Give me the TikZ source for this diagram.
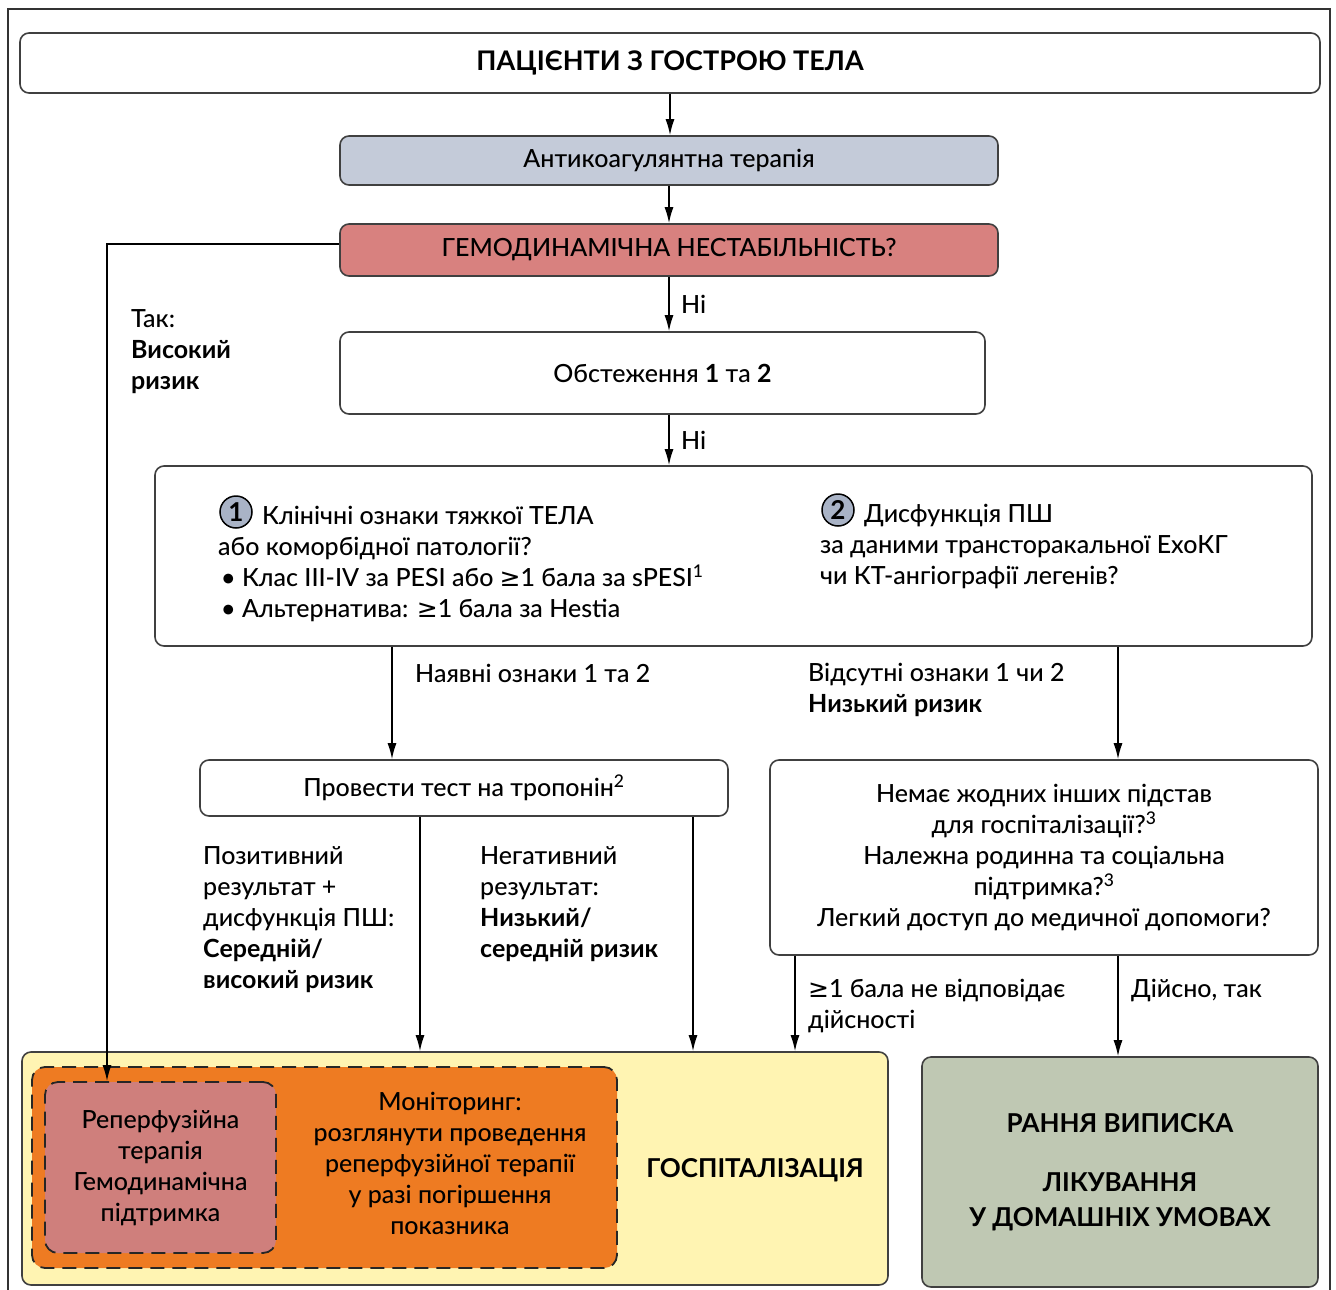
\documentclass[tikz,border=0pt]{standalone}
\usepackage{fontspec}
\setmainfont{Lato}[UprightFont={* Medium},BoldFont={* Bold}]
\newfontfamily\symfont{DejaVu Sans}
\usepackage{tikz}
\usetikzlibrary{positioning,arrows.meta}
\definecolor{sirosynij}{HTML}{C4CBD9}
\definecolor{gemodyn}{HTML}{D8817F}
\definecolor{zhovtyj}{HTML}{FFF4B2}
\definecolor{pomaranch}{HTML}{EE7B22}
\definecolor{rozhevyj}{HTML}{CF7F7C}
\definecolor{olyvkovyj}{HTML}{BFC8B3}
\definecolor{kolokruh}{HTML}{A9B3C6}

\begin{document}
\begin{tikzpicture}[x=1pt,y=-1pt,font=\fontsize{25}{31}\selectfont]
        \tikzset{
          blok/.style={
            draw=black!75,line width=1.6pt,align=center,
            rounded corners=9pt,inner sep=0pt,
          },
          blok bilyj/.style={blok,fill=white},
          blok punktyr/.style={blok,draw=black!85,line width=1.8pt,dash pattern=on 14pt off 8pt,rounded corners=13pt},
          kruzhok/.style={
            circle,draw=black,line width=1.5pt,fill=kolokruh,
            minimum size=32pt,inner sep=0pt,font=\fontsize{26}{26}\selectfont\bfseries,
          },
          pidpys/.style={align=left,inner sep=0pt},
          strilka/.style={
            -{Latex[length=16pt,width=9pt]},line width=1.5pt,draw=black,
          },
          }
        \useasboundingbox (0,0) rectangle (1336,1290);
        \draw[line width=1.8pt,draw=black!80] (8,1290) -- (8,9) -- (1330,9) -- (1330,1290);

        \node[blok bilyj, minimum width=1300pt, minimum height=60pt, font=\fontsize{27}{31}\selectfont\bfseries] (a) at (670,63) {ПАЦІЄНТИ З ГОСТРОЮ ТЕЛА};
        \node[blok, fill=sirosynij, minimum width=658pt, minimum height=49pt] (b) at (669,160.5) {Антикоагулянтна терапія};
        \node[blok, fill=gemodyn, minimum width=658pt, minimum height=52pt] (c) at (669,250) {ГЕМОДИНАМІЧНА НЕСТАБІЛЬНІСТЬ?};
        \node[blok bilyj, minimum width=645pt, minimum height=82pt] (d) at (662.5,373) {Обстеження \textbf{1} та \textbf{2}};
        \node[blok bilyj, minimum width=1157pt, minimum height=180pt] (e) at (733.5,556) {};
        \node[kruzhok] (n1) at (236,512) {1};
        \node[pidpys, anchor=north west] (e1) at (218,506) {\hspace*{44pt}Клінічні ознаки тяжкої ТЕЛА\\або коморбідної патології?\\\hspace*{3pt}• Клас III-IV за PESI або {\symfont ≥}1 бала за sPESI\textsuperscript{1}\\\hspace*{3pt}• Альтернатива: {\symfont ≥}1 бала за Hestia};
        \node[kruzhok] (n2) at (838,510) {2};
        \node[pidpys, anchor=north west] (e2) at (820,504) {\hspace*{44pt}Дисфункція ПШ\\за даними трансторакальної ЕхоКГ\\чи КТ-ангіографії легенів?};

        \node[blok bilyj, minimum width=528pt, minimum height=56pt] (f) at (464,788) {Провести тест на тропонін\textsuperscript{2}};
        \node[blok bilyj, minimum width=548pt, minimum height=195pt] (g) at (1044,857.5) {Немає жодних інших підстав\\для госпіталізації?\textsuperscript{3}\\Належна родинна та соціальна\\підтримка?\textsuperscript{3}\\Легкий доступ до медичної допомоги?};

        \node[blok, fill=zhovtyj, minimum width=866pt, minimum height=233pt] (h) at (455,1168.5) {};
        \node[blok punktyr, fill=pomaranch, minimum width=585pt, minimum height=201pt] (i) at (324.5,1167.5) {};
        \node[blok punktyr, fill=rozhevyj, minimum width=231pt, minimum height=171pt] (j) at (160.5,1167.5) {Реперфузійна\\терапія\\Гемодинамічна\\підтримка};
        \node[align=center, inner sep=0pt] (i1) at (450,1163) {Моніторинг:\\розглянути проведення\\реперфузійної терапії\\у разі погіршення\\показника};
        \node[inner sep=0pt, font=\fontsize{26}{31}\selectfont\bfseries] (h1) at (755,1170) {ГОСПІТАЛІЗАЦІЯ};
        \node[blok, fill=olyvkovyj, minimum width=396pt, minimum height=230pt, font=\fontsize{26}{35}\selectfont\bfseries] (k) at (1120,1172) {РАННЯ ВИПИСКА\\[24pt]ЛІКУВАННЯ\\У ДОМАШНІХ УМОВАХ};

        % pidpysy do strilok
        \node[pidpys, anchor=north west] (tak) at (131,309) {Так:\\\textbf{Високий}\\\textbf{ризик}};
        \node[pidpys, anchor=west] (l1) at (415,673) {Наявні ознаки 1 та 2};
        \node[pidpys, anchor=north west] (l2) at (808,663) {Відсутні ознаки 1 чи 2\\\textbf{Низький ризик}};
        \node[pidpys, anchor=north west] (l3) at (203,846) {Позитивний\\результат +\\дисфункція ПШ:\\\textbf{Середній/}\\\textbf{високий ризик}};
        \node[pidpys, anchor=north west] (l4) at (480,846) {Негативний\\результат:\\\textbf{Низький/}\\\textbf{середній ризик}};
        \node[pidpys, anchor=north west] (l5) at (808,979) {{\symfont ≥}1 бала не відповідає\\дійсності};
        \node[pidpys, anchor=north west] (l6) at (1131,979) {Дійсно, так};

        \coordinate (v) at (107,244);
        \coordinate (x1) at (392,0);
        \coordinate (x2) at (1118,0);
        \coordinate (x3) at (420,0);
        \coordinate (x4) at (693,0);
        \coordinate (x5) at (795,0);

        \draw[strilka] (a.south) -- (a.south |- b.north);
        \draw[strilka] (b.south) -- (b.south |- c.north);
        \draw[strilka] (c.south) -- (c.south |- d.north) node[midway, right=8pt]{Ні};
        \draw[strilka] (d.south -| c.south) -- (e.north -| c.south) node[midway, right=8pt]{Ні};
        \draw[strilka] (c.west |- v) -- (v) -- (v |- j.north);
        \draw[strilka] (e.south -| x1) -- (f.north -| x1);
        \draw[strilka] (e.south -| x2) -- (g.north -| x2);
        \draw[strilka] (f.south -| x3) -- (h.north -| x3);
        \draw[strilka] (f.south -| x4) -- (h.north -| x4);
        \draw[strilka] (g.south -| x5) -- (h.north -| x5);
        \draw[strilka] (g.south -| x2) -- (k.north -| x2);
      \end{tikzpicture}
\end{document}
